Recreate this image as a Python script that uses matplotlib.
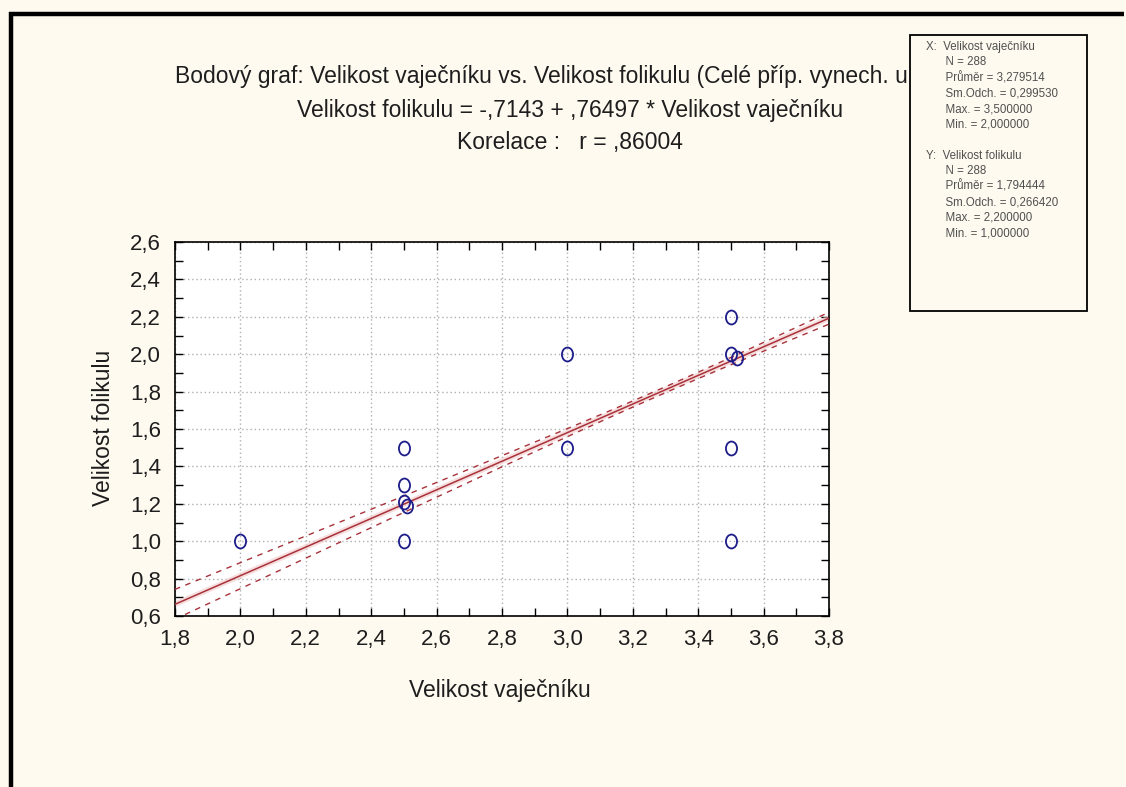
import numpy as np
import matplotlib
matplotlib.use("Agg")
import matplotlib.pyplot as plt
from matplotlib.path import Path
from matplotlib.transforms import Affine2D
from matplotlib.patches import Rectangle
from matplotlib.lines import Line2D

# ---- data ----
ovary_size = [2.0, 2.5, 2.5, 2.51, 2.5, 2.5, 3.0, 3.0, 3.5, 3.5, 3.5, 3.52, 3.5]
follicle_size = [1.0, 1.0, 1.21, 1.19, 1.3, 1.5, 1.5, 2.0, 1.0, 1.5, 2.0, 1.98, 2.2]

intercept = -0.7143
slope = 0.76497
n_obs = 288
x_mean, x_sd = 3.279514, 0.299530
y_mean, y_sd = 1.794444, 0.266420
r_corr = 0.86004

x_ticks = [1.8, 2.0, 2.2, 2.4, 2.6, 2.8, 3.0, 3.2, 3.4, 3.6, 3.8]
y_ticks = [0.6, 0.8, 1.0, 1.2, 1.4, 1.6, 1.8, 2.0, 2.2, 2.4, 2.6]

title_lines = [
    "Bodový graf: Velikost vaječníku vs. Velikost folikulu (Celé příp. vynech. u ChD)",
    "Velikost folikulu = -,7143 + ,76497 * Velikost vaječníku",
    "Korelace :   r = ,86004",
]
stats_x_head = "X:  Velikost vaječníku"
stats_x_items = ["N = 288", "Průměr = 3,279514", "Sm.Odch. = 0,299530",
                 "Max. = 3,500000", "Min. = 2,000000"]
stats_y_head = "Y:  Velikost folikulu"
stats_y_items = ["N = 288", "Průměr = 1,794444", "Sm.Odch. = 0,266420",
                 "Max. = 2,200000", "Min. = 1,000000"]

plt.rcParams['font.family'] = ['Liberation Sans', 'DejaVu Sans']

W, H = 1126, 787
bg = '#fffaf0'
txt_col = '#1e1e1e'
fig = plt.figure(figsize=(W / 100, H / 100), dpi=100, facecolor=bg)

def fx(px):
    return px / W

def fy(py):
    return 1 - py / H

# axes placement
L, R, T, B = 175, 829, 242, 616
ax = fig.add_axes([fx(L), fy(B), fx(R) - fx(L), fy(T) - fy(B)])
ax.set_facecolor('white')
ax.set_xlim(1.8, 3.8)
ax.set_ylim(0.6, 2.6)
ax.set_xticks(x_ticks)
ax.set_yticks(y_ticks)
ax.set_xticks(np.arange(1.9, 3.8, 0.2), minor=True)
ax.set_yticks(np.arange(0.7, 2.6, 0.2), minor=True)
fmt = lambda v: f"{v:.1f}".replace('.', ',')
ax.set_xticklabels([fmt(v) for v in x_ticks], fontsize=16, color=txt_col)
ax.set_yticklabels([fmt(v) for v in y_ticks], fontsize=16, color=txt_col)
ax.tick_params(which='both', direction='in', length=6, width=1, color='black')
ax.tick_params(axis='x', which='major', pad=9)
ax.tick_params(axis='y', which='major', pad=10)
ax.tick_params(axis='both', which='both', top=True, right=True)
for s in ax.spines.values():
    s.set_linewidth(1.2)
    s.set_color('black')
ax.grid(True, which='major', color='#b0b0b0', linestyle=(0, (1, 2)), linewidth=1.0)
ax.set_axisbelow(True)

# regression line and 95% confidence bands from stated statistics
xs = np.linspace(1.8, 3.8, 200)
yfit = intercept + slope * xs
sxx = (n_obs - 1) * x_sd ** 2
s_res = y_sd * np.sqrt(1 - r_corr ** 2) * np.sqrt((n_obs - 1) / (n_obs - 2))
half = 1.968 * s_res * np.sqrt(1 / n_obs + (xs - x_mean) ** 2 / sxx)
line_col = '#a8323a'
ax.plot(xs, yfit, color='#f3c9c9', lw=4, alpha=0.6, zorder=2)
ax.plot(xs, yfit, color=line_col, lw=1.1, zorder=3)
ax.plot(xs, yfit + half, color=line_col, lw=1.0, ls=(0, (4, 4)), zorder=3)
ax.plot(xs, yfit - half, color=line_col, lw=1.0, ls=(0, (4, 4)), zorder=3)

# tall elliptical open-circle markers
circ = Path.unit_circle()
ell = Affine2D().scale(0.8, 1.0).transform_path(circ)
ax.plot(ovary_size, follicle_size, linestyle='none', marker=ell, markersize=10,
        markerfacecolor='none', markeredgecolor='#1c1c8a', markeredgewidth=1.3,
        zorder=4, clip_on=False)

# axis labels
fig.text(fx(103), fy(428), "Velikost folikulu", rotation=90, ha='center', va='center',
         fontsize=16.5, color=txt_col)
fig.text(fx(500), fy(690), "Velikost vaječníku", ha='center', va='center',
         fontsize=16.5, color=txt_col)

# title lines
fig.text(fx(175), fy(77), title_lines[0], ha='left', va='center', fontsize=16.5, color=txt_col)
fig.text(fx(570), fy(110), title_lines[1], ha='center', va='center', fontsize=16.5, color=txt_col)
fig.text(fx(570), fy(143), title_lines[2], ha='center', va='center', fontsize=16.5, color=txt_col)

# stats box (covers end of title line)
bx0, bx1, by0, by1 = 910, 1087, 35, 311
fig.patches.append(Rectangle((fx(bx0), fy(by1)), fx(bx1) - fx(bx0), fy(by0) - fy(by1),
                             transform=fig.transFigure, facecolor=bg, edgecolor='black',
                             linewidth=1.3, zorder=10))
indent = "      "
block = "\n".join([stats_x_head] + [indent + t for t in stats_x_items] + [""] +
                  [stats_y_head] + [indent + t for t in stats_y_items])
fig.text(fx(926), fy(41), block, ha='left', va='top', fontsize=8.3, linespacing=1.38,
         color='#505050', zorder=11)

# window border (top and left)
fig.add_artist(Line2D([fx(9), fx(1124)], [fy(14), fy(14)], transform=fig.transFigure,
                      color='black', lw=3.2, solid_capstyle='butt'))
fig.add_artist(Line2D([fx(11), fx(11)], [fy(12), fy(787)], transform=fig.transFigure,
                      color='black', lw=3.2, solid_capstyle='butt'))

fig.savefig('out.png', dpi=100, facecolor=bg)
